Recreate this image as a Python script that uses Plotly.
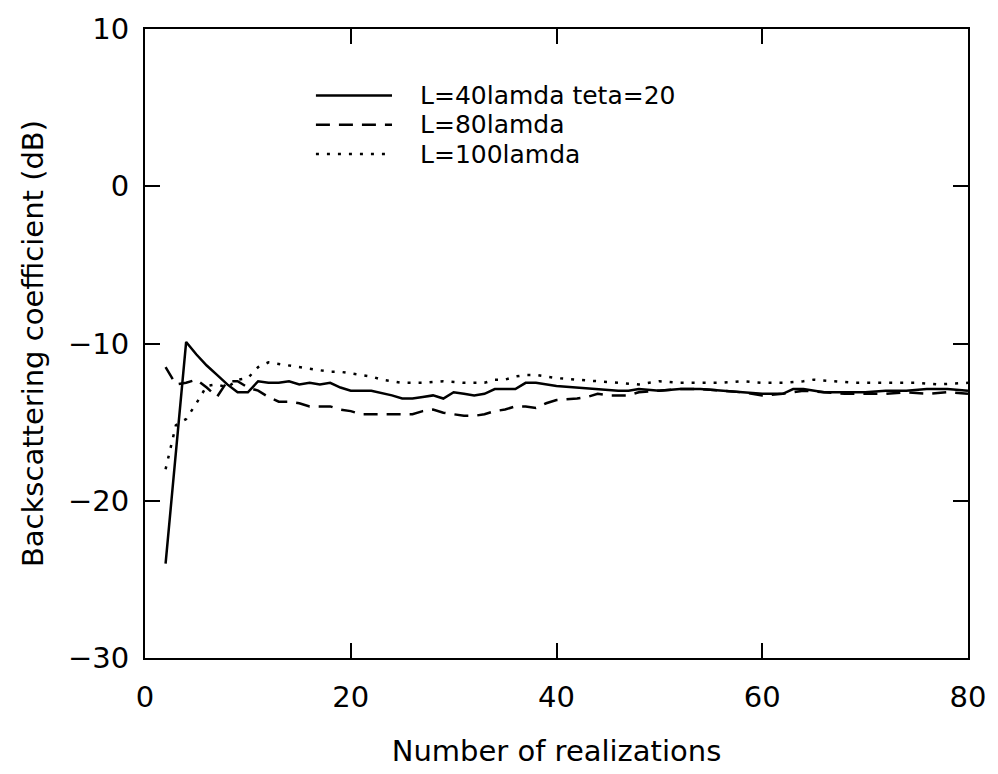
import plotly.graph_objects as go

# ---- data ----
x_l40 = [2, 4, 5, 6, 7, 8, 9, 10, 11, 12, 13, 14, 15, 16, 17, 18, 19, 20, 22, 24, 25, 26, 27, 28, 29, 30,
         31, 32, 33, 34, 35, 36, 37, 38, 40, 42, 44, 46, 47, 48, 50, 52, 54, 56, 58, 60, 62, 63, 64, 66,
         68, 70, 72, 74, 76, 78, 80]
y_l40 = [-24.0, -9.9, -10.7, -11.4, -12.0, -12.6, -13.1, -13.1, -12.4, -12.5, -12.5, -12.4, -12.6, -12.5,
         -12.6, -12.5, -12.8, -13.0, -13.0, -13.3, -13.5, -13.5, -13.4, -13.3, -13.5, -13.1, -13.2, -13.3,
         -13.2, -12.9, -12.9, -12.9, -12.5, -12.5, -12.7, -12.8, -12.9, -13.0, -13.0, -12.9, -13.0, -12.9,
         -12.9, -13.0, -13.1, -13.2, -13.2, -12.9, -12.9, -13.1, -13.1, -13.1, -13.0, -13.0, -12.9, -12.9,
         -13.0]

x_l80 = [2, 3, 4, 5, 6, 7, 8, 9, 10, 11, 12, 13, 14, 15, 16, 17, 18, 19, 20, 21, 22, 24, 26, 27, 28, 29,
         30, 31, 32, 33, 34, 35, 36, 37, 38, 39, 40, 42, 43, 44, 45, 46, 47, 48, 50, 52, 54, 56, 58, 60,
         62, 64, 66, 68, 70, 72, 74, 76, 78, 80]
y_l80 = [-11.5, -12.6, -12.5, -12.3, -12.8, -13.4, -12.4, -12.4, -12.8, -13.0, -13.4, -13.7, -13.7, -13.8,
         -14.0, -14.0, -14.0, -14.2, -14.3, -14.5, -14.5, -14.5, -14.5, -14.3, -14.2, -14.4, -14.5, -14.6,
         -14.6, -14.5, -14.3, -14.2, -14.0, -14.0, -14.1, -13.8, -13.6, -13.5, -13.4, -13.2, -13.3, -13.3,
         -13.3, -13.1, -13.0, -12.9, -12.9, -13.0, -13.1, -13.3, -13.2, -13.0, -13.1, -13.2, -13.2, -13.2,
         -13.1, -13.2, -13.1, -13.2]

x_l100 = [2, 3, 4, 5, 6, 7, 8, 9, 10, 11, 12, 13, 14, 15, 16, 17, 18, 19, 20, 21, 22, 23, 24, 25, 27, 29,
          31, 33, 34, 35, 36, 37, 38, 39, 40, 42, 44, 46, 48, 49, 50, 52, 54, 56, 58, 60, 62, 64, 65, 67,
          69, 72, 75, 77, 80]
y_l100 = [-18.0, -15.2, -14.8, -13.8, -12.7, -12.6, -12.8, -12.3, -12.2, -11.5, -11.2, -11.3, -11.4, -11.5,
          -11.6, -11.7, -11.8, -11.8, -11.9, -12.0, -12.1, -12.3, -12.4, -12.5, -12.5, -12.4, -12.5, -12.5,
          -12.3, -12.3, -12.1, -12.0, -12.0, -12.1, -12.2, -12.3, -12.4, -12.5, -12.6, -12.5, -12.4, -12.5,
          -12.5, -12.5, -12.4, -12.5, -12.5, -12.4, -12.3, -12.4, -12.5, -12.5, -12.5, -12.6, -12.5]

series_names = ["L=40lamda teta=20", "L=80lamda", "L=100lamda"]
x_ticks = [0, 20, 40, 60, 80]
y_ticks = [-30, -20, -10, 0, 10]
y_tick_text = ["\u221230", "\u221220", "\u221210", "0", "10"]

FONT = "DejaVu Sans"
dashes = ["solid", "14px,9px", "3px,8px"]

fig = go.Figure()
for xs, ys, name, d in zip([x_l40, x_l80, x_l100], [y_l40, y_l80, y_l100], series_names, dashes):
    fig.add_trace(go.Scatter(x=xs, y=ys, mode="lines", name=name, showlegend=False,
                             line=dict(color="black", width=2.5, dash=d)))

# manual legend (line samples + labels) in paper coordinates
W, H = 998, 774
ml, mr, mt, mb = 145, 20, 19, 111
pw, ph = W - ml - mr, H - mt - mb
def px2paper_x(px): return (px - ml) / pw
def px2paper_y(py): return 1 - (py - mt) / ph

rows_y = [87, 117, 147]
for name, d, ry in zip(series_names, dashes, rows_y):
    fig.add_shape(type="line", xref="paper", yref="paper",
                  x0=px2paper_x(318), x1=px2paper_x(395), y0=px2paper_y(ry), y1=px2paper_y(ry),
                  line=dict(color="black", width=2.5, dash=d))
    fig.add_annotation(xref="paper", yref="paper", x=px2paper_x(421), y=px2paper_y(ry),
                       text=name, showarrow=False, xanchor="left", yanchor="middle",
                       font=dict(family=FONT, size=25, color="black"))

axis_common = dict(showgrid=False, zeroline=False, showline=True, linecolor="black", linewidth=2,
                   mirror="ticks", ticks="inside", ticklen=15, tickwidth=2, tickcolor="black",
                   tickfont=dict(family=FONT, size=29, color="black"))

fig.update_layout(
    width=W, height=H,
    margin=dict(l=ml, r=mr, t=mt, b=mb),
    paper_bgcolor="white", plot_bgcolor="white",
    xaxis=dict(range=[0, 80], tickvals=x_ticks, ticklabelstandoff=12,
               title=dict(text="Number of realizations", standoff=28,
                          font=dict(family=FONT, size=29, color="black")),
               **axis_common),
    yaxis=dict(range=[-30, 10], tickvals=y_ticks, ticktext=y_tick_text,
               ticklabelstandoff=8,
               title=dict(text="Backscattering coefficient (dB)", standoff=16,
                          font=dict(family=FONT, size=29, color="black")),
               **axis_common),
)

fig.write_html("out.html")
